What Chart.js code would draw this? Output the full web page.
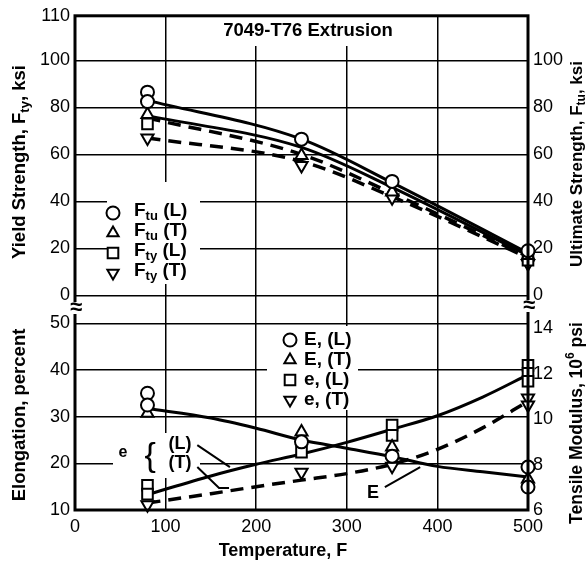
<!DOCTYPE html>
<html>
<head>
<meta charset="utf-8">
<script src="https://cdn.jsdelivr.net/npm/chart.js@4.4.1/dist/chart.umd.min.js"></script>
<style>
    html, body { margin: 0; padding: 0; background: #fff; }
    #wrap { position: relative; width: 588px; height: 570px; }
</style>
</head>
<body>
<div id="wrap"><canvas id="grafico"></canvas></div>
<script>
// Eixos
const tempTicks = [0, 100, 200, 300, 400, 500];
const yieldTicks = [0, 20, 40, 60, 80, 100, 119];
const yieldTickLabels = ['0', '20', '40', '60', '80', '100', '110'];
const ultTicks = [0, 20, 40, 60, 80, 100];
const elongTicks = [10, 20, 30, 40, 50];
const modulusTicks = [6, 8, 10, 12, 14];

// Painel superior - pontos medidos [temperatura, ksi]
const ftuL = [[80, 86.5], [80, 82.5], [250, 66.5], [350, 48.5], [500, 19]];
const ftuT = [[80, 77], [250, 59.5], [350, 44], [500, 17]];
const ftyL = [[80, 73], [500, 15]];
const ftyT = [[80, 67], [250, 55.3], [350, 41.5], [500, 13.5]];

// Painel superior - curvas
const curveTemps = [80, 250, 350, 500];
const ftuLCurve = [83, 66.5, 48, 18];
const ftyLCurve = [76.5, 63, 46, 17];
const ftuTCurve = [75.5, 60, 43.5, 16.5];
const ftyTCurve = [67, 57, 42, 16];

// Painel inferior - pontos medidos (E em 10^6 psi, e em %)
const modL = [[80, 11.14], [80, 10.62], [250, 9.0], [350, 8.37], [500, 7.89], [500, 7.01]];
const modT = [[80, 10.26], [250, 9.43], [350, 8.77], [500, 7.36]];
const elongL = [[80, 15.3], [80, 13.4], [250, 22.4], [350, 28.2], [350, 26.0], [500, 41], [500, 39.3], [500, 37.6]];
const elongT = [[80, 11.1], [250, 18.1], [350, 19.4], [500, 34], [500, 32.5]];

// Painel inferior - curvas
const bottomTemps = [80, 150, 200, 250, 300, 350, 400, 450, 500];
const modCurve = [10.47, 10.05, 9.6, 9.08, 8.72, 8.35, 7.92, 7.68, 7.45];
const elongLCurve = [13.3, 17.3, 19.8, 22, 24.5, 27.3, 30.2, 34.2, 39];
const elongTCurve = [11.5, 13.5, 15, 16.4, 17.8, 19.8, 23, 27.6, 33.3];

const FONTE = '"Liberation Sans", Arial, sans-serif';

function pontos(arr) {
    return arr.map(p => ({ x: p[0], y: p[1] }));
}

function curva(temps, vals) {
    return temps.map((t, i) => ({ x: t, y: vals[i] }));
}

function marcadores(data, eixo, estilo, raio, rot) {
    return {
        data: pontos(data),
        yAxisID: eixo,
        showLine: false,
        pointStyle: estilo,
        pointRotation: rot || 0,
        pointRadius: raio,
        pointBorderWidth: 2,
        pointBorderColor: '#000',
        pointBackgroundColor: '#fff',
        clip: false,
        order: 0
    };
}

function linha(temps, vals, eixo, tracejada) {
    return {
        data: curva(temps, vals),
        yAxisID: eixo,
        showLine: true,
        borderColor: '#000',
        borderWidth: tracejada ? 3.5 : 3,
        borderDash: tracejada ? [13, 8] : [],
        cubicInterpolationMode: 'monotone',
        pointRadius: 0,
        fill: false,
        clip: false,
        order: 1
    };
}

// desenha texto com subscrito / sobrescrito
function textoRico(ctx, partes, x, y, ang, alin, tam) {
    tam = tam || 18;
    const fn = 'bold ' + tam + 'px ' + FONTE;
    const fs = 'bold ' + Math.round(tam * 0.7) + 'px ' + FONTE;
    ctx.save();
    ctx.translate(x, y);
    ctx.rotate(ang || 0);
    let total = 0;
    partes.forEach(p => { ctx.font = p[1] ? fs : fn; total += ctx.measureText(p[0]).width; });
    let cx = alin === 'left' ? 0 : -total / 2;
    ctx.textBaseline = 'middle';
    ctx.textAlign = 'left';
    ctx.fillStyle = '#000';
    partes.forEach(p => {
        ctx.font = p[1] ? fs : fn;
        const dy = p[1] === 'sub' ? tam * 0.3 : (p[1] === 'sup' ? -tam * 0.35 : 0);
        ctx.fillText(p[0], cx, dy);
        cx += ctx.measureText(p[0]).width;
    });
    ctx.restore();
}

function simbolo(ctx, estilo, x, y, r) {
    ctx.save();
    ctx.beginPath();
    ctx.lineWidth = 2;
    ctx.strokeStyle = '#000';
    ctx.fillStyle = '#fff';
    if (estilo === 'circle') {
        ctx.arc(x, y, r, 0, Math.PI * 2);
    } else if (estilo === 'rect') {
        const s = r * Math.SQRT1_2;
        ctx.rect(x - s, y - s, 2 * s, 2 * s);
    } else {
        const sg = estilo === 'down' ? -1 : 1;
        ctx.moveTo(x, y - sg * r);
        ctx.lineTo(x + r * 0.866, y + sg * r * 0.5);
        ctx.lineTo(x - r * 0.866, y + sg * r * 0.5);
        ctx.closePath();
    }
    ctx.fill();
    ctx.stroke();
    ctx.restore();
}

const decoracao = {
    id: 'decoracao',
    beforeDatasetsDraw(chart) {
        const ctx = chart.ctx;
        ctx.save();
        ctx.fillStyle = '#fff';
        ctx.fillRect(218, 16, 180, 30);   // titulo
        ctx.fillRect(107, 182, 93, 102);  // legenda superior
        ctx.fillRect(267, 326, 91, 84);   // legenda inferior
        ctx.fillRect(113, 433, 87, 45);   // anotacao e
        ctx.restore();
    },
    afterDraw(chart) {
        const ctx = chart.ctx;
        const a = chart.chartArea;
        const x = chart.scales.x;
        const yb = chart.scales.yBot;
        const px = v => x.getPixelForValue(v);
        const py = v => yb.getPixelForValue(v);

        // moldura
        ctx.save();
        ctx.strokeStyle = '#000';
        ctx.lineWidth = 3;
        ctx.strokeRect(a.left, a.top, a.right - a.left, a.bottom - a.top);

        // quebras de eixo
        ctx.fillStyle = '#fff';
        ctx.fillRect(a.left - 5, 302, 10, 12);
        ctx.fillRect(a.right - 5, 300, 10, 12);
        ctx.fillStyle = '#000';
        ctx.font = 'bold 22px ' + FONTE;
        ctx.textAlign = 'center';
        ctx.textBaseline = 'middle';
        ctx.fillText('\u2248', a.left + 1, 308);
        ctx.fillText('\u2248', a.right + 1, 306);
        ctx.restore();

        // titulo
        textoRico(ctx, [['7049-T76 Extrusion']], 308, 31, 0, 'center', 18.5);

        // titulos dos eixos
        textoRico(ctx, [['Yield Strength, F'], ['ty', 'sub'], [', ksi']], 20, 162, -Math.PI / 2, 'center', 18.5);
        textoRico(ctx, [['Elongation, percent']], 20, 415, -Math.PI / 2, 'center', 18.5);
        textoRico(ctx, [['Ultimate Strength, F'], ['tu', 'sub'], [', ksi']], 577, 164, -Math.PI / 2, 'center', 17);
        textoRico(ctx, [['Tensile Modulus, 10'], ['6', 'sup'], [' psi']], 577, 423, -Math.PI / 2, 'center', 17.5);
        textoRico(ctx, [['Temperature, F']], 283, 551, 0, 'center', 18);

        // legenda superior
        const legSup = [
            ['circle', 'tu', ' (L)'],
            ['triangle', 'tu', ' (T)'],
            ['rect', 'ty', ' (L)'],
            ['down', 'ty', ' (T)']
        ];
        legSup.forEach((l, i) => {
            const yy = 213 + i * 20;
            simbolo(ctx, l[0], 113, yy, l[0] === 'rect' ? 7.5 : 6.5);
            textoRico(ctx, [['F'], [l[1], 'sub'], [l[2]]], 134, yy - 2, 0, 'left', 19);
        });

        // legenda inferior
        const legInf = [
            ['circle', 'E, (L)'],
            ['triangle', 'E, (T)'],
            ['rect', 'e, (L)'],
            ['down', 'e, (T)']
        ];
        legInf.forEach((l, i) => {
            const yy = 340 + i * 20;
            simbolo(ctx, l[0], 290, yy, l[0] === 'rect' ? 7.5 : 6.5);
            textoRico(ctx, [[l[1]]], 304, yy, 0, 'left', 19);
        });

        // anotacoes e { (L) (T) e E
        ctx.save();
        ctx.fillStyle = '#000';
        ctx.font = 'bold 16px ' + FONTE;
        ctx.textAlign = 'center';
        ctx.textBaseline = 'middle';
        ctx.fillText('e', px(53), py(22.4));
        ctx.font = '34px ' + FONTE;
        ctx.fillText('{', px(83), py(21.5));
        ctx.font = 'bold 18px ' + FONTE;
        ctx.fillText('(L)', px(116), py(24.1));
        ctx.fillText('(T)', px(116), py(20));
        ctx.fillText('E', px(329), py(13.6));

        ctx.strokeStyle = '#000';
        ctx.lineWidth = 2;
        ctx.beginPath();
        ctx.moveTo(px(135), py(23.9));
        ctx.lineTo(px(171), py(19.2));
        ctx.moveTo(px(135), py(19.2));
        ctx.lineTo(px(159), py(14.7));
        ctx.lineTo(px(170), py(14.7));
        ctx.moveTo(px(342), py(14.9));
        ctx.lineTo(px(381), py(19.2));
        ctx.stroke();
        ctx.restore();
    }
};

const gradeCor = v => (ctx) => (v.includes(ctx.tick.value) ? 'transparent' : '#000');

new Chart(document.getElementById('grafico'), {
    type: 'scatter',
    data: {
        datasets: [
            marcadores(ftuL, 'yTop', 'circle', 6.5),
            marcadores(ftuT, 'yTop', 'triangle', 7),
            marcadores(ftyL, 'yTop', 'rect', 7.5),
            marcadores(ftyT, 'yTop', 'triangle', 7, 180),
            marcadores(modL, 'yBotR', 'circle', 6.5),
            marcadores(modT, 'yBotR', 'triangle', 7),
            marcadores(elongL, 'yBot', 'rect', 7.5),
            marcadores(elongT, 'yBot', 'triangle', 7, 180),
            linha(curveTemps, ftuLCurve, 'yTop', false),
            linha(curveTemps, ftyLCurve, 'yTop', false),
            linha(curveTemps, ftuTCurve, 'yTop', true),
            linha(curveTemps, ftyTCurve, 'yTop', true),
            linha(bottomTemps, modCurve, 'yBotR', false),
            linha(bottomTemps, elongLCurve, 'yBot', false),
            linha(bottomTemps, elongTCurve, 'yBot', true)
        ]
    },
    options: {
        responsive: true,
        maintainAspectRatio: false,
        animation: false,
        layout: { padding: { top: 15, left: 0, right: 0, bottom: 0 } },
        plugins: {
            legend: { display: false },
            tooltip: { enabled: false },
            title: { display: false }
        },
        scales: {
            x: {
                type: 'linear',
                min: 0,
                max: 500,
                afterBuildTicks: s => { s.ticks = tempTicks.map(v => ({ value: v })); },
                afterFit: s => { s.height = 60; },
                grid: { color: gradeCor([0, 500]), lineWidth: 1.5, drawTicks: false },
                border: { display: false },
                ticks: { color: '#000', font: { family: FONTE, size: 18 }, padding: 6 }
            },
            // eixos da esquerda sao empilhados em ordem inversa
            yBot: {
                type: 'linear',
                position: 'left',
                stack: 'esq',
                stackWeight: 215,
                min: 10,
                max: 56,
                afterBuildTicks: s => { s.ticks = elongTicks.map(v => ({ value: v })); },
                afterFit: s => { s.width = 75; },
                grid: { color: gradeCor([10]), lineWidth: 1.5, drawTicks: false },
                border: { display: false },
                ticks: { color: '#000', font: { family: FONTE, size: 18 }, padding: 5 }
            },
            yTop: {
                type: 'linear',
                position: 'left',
                stack: 'esq',
                stackWeight: 280,
                min: 0,
                max: 119,
                afterBuildTicks: s => { s.ticks = yieldTicks.map(v => ({ value: v })); },
                afterFit: s => { s.width = 75; },
                grid: { color: gradeCor([119]), lineWidth: 1.5, drawTicks: false },
                border: { display: false },
                ticks: {
                    color: '#000',
                    font: { family: FONTE, size: 18 },
                    padding: 5,
                    callback: v => yieldTickLabels[yieldTicks.indexOf(v)]
                }
            },
            yTopR: {
                type: 'linear',
                position: 'right',
                stack: 'dir',
                stackWeight: 280,
                min: 0,
                max: 119,
                afterBuildTicks: s => { s.ticks = ultTicks.map(v => ({ value: v })); },
                afterFit: s => { s.width = 60; },
                grid: { display: false, drawTicks: false },
                border: { display: false },
                ticks: { color: '#000', font: { family: FONTE, size: 18 }, padding: 5 }
            },
            yBotR: {
                type: 'linear',
                position: 'right',
                stack: 'dir',
                stackWeight: 215,
                min: 6,
                max: 15.45,
                afterBuildTicks: s => { s.ticks = modulusTicks.map(v => ({ value: v })); },
                afterFit: s => { s.width = 60; },
                grid: { display: false, drawTicks: false },
                border: { display: false },
                ticks: { color: '#000', font: { family: FONTE, size: 18 }, padding: 5 }
            }
        }
    },
    plugins: [decoracao]
});
</script>
</body>
</html>
